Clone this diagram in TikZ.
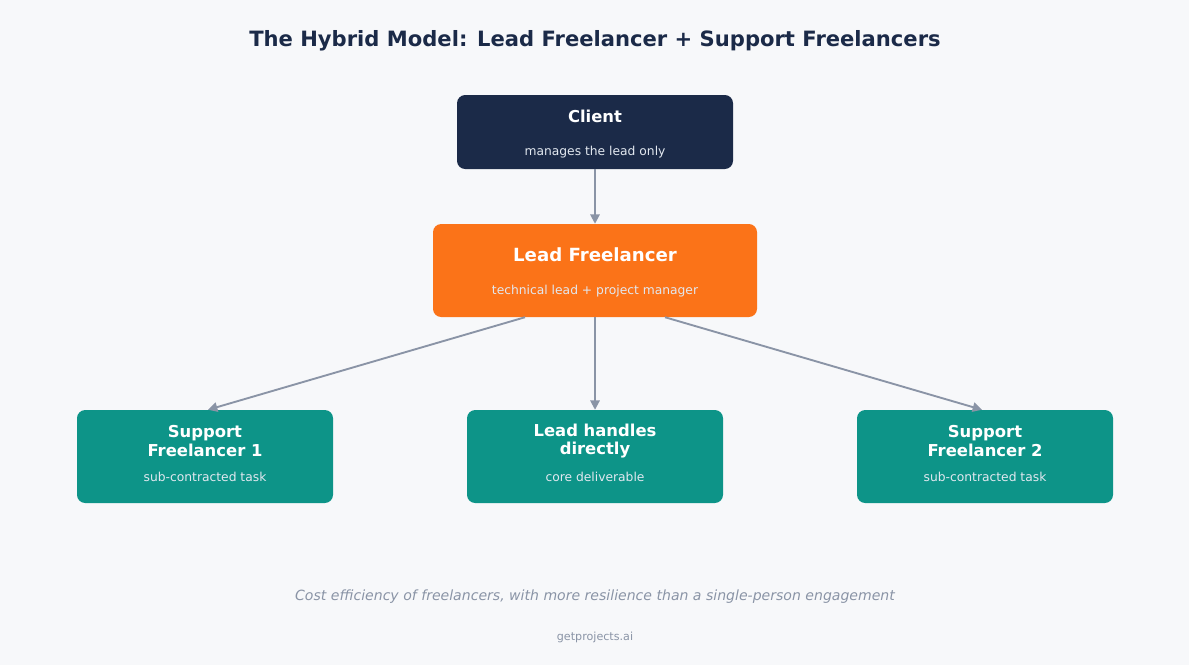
\documentclass[tikz,border=0pt]{standalone}
\usepackage{fontspec}
\setmainfont{DejaVu Sans}
\usetikzlibrary{calc,arrows.meta}
\definecolor{bgc}{HTML}{F7F8FA}
\definecolor{navy}{HTML}{1B2A48}
\definecolor{lead}{HTML}{FB7318}
\definecolor{teal}{HTML}{0D9488}
\definecolor{edge}{HTML}{8A94A6}
\definecolor{subw}{HTML}{E2E8F0}
\tikzset{
  box/.style={draw=none, rounded corners=7pt, inner sep=0pt},
  ttl/.style={text=white, font=\bfseries\fontsize{14}{16}\selectfont, align=center},
  sub/.style={text=subw, font=\fontsize{10.5}{12}\selectfont},
  link/.style={draw=edge, line width=1.6pt, -{Triangle[length=8pt,width=8pt]}}
}
\begin{document}
\begin{tikzpicture}[x=0.03cm,y=-0.03cm]
\fill[bgc] (0,0) rectangle (1189,665);
\useasboundingbox (0,0) rectangle (1189,665);
\node[text=navy, font=\bfseries\fontsize{18}{22}\selectfont] (title) at (595,41) {The Hybrid Model: Lead Freelancer + Support Freelancers};
% boxes
\node[box, fill=navy, minimum width=276*0.03cm, minimum height=74*0.03cm] (client) at (595,132) {};
\node[box, fill=lead, minimum width=324*0.03cm, minimum height=93*0.03cm] (lf) at (595,270.5) {};
\foreach \n/\x in {sfa/205, core/595, sfb/985}
  \node[box, fill=teal, minimum width=256*0.03cm, minimum height=93*0.03cm] (\n) at (\x,456.5) {};
% texts
\node[ttl] (clientT) at (595,116) {Client};
\node[sub] (clientS) at (595,152) {manages the lead only};
\node[ttl, font=\bfseries\fontsize{15.5}{18}\selectfont] (lfT) at (595,255) {Lead Freelancer};
\node[sub] (lfS) at (595,291) {technical lead + project manager};
\node[ttl] (sfaT) at (205,441) {Support\\Freelancer 1};
\node[sub] (sfaS) at (205,477) {sub-contracted task};
\node[ttl] (coreT) at (595,441) {Lead handles\\directly};
\node[sub] (coreS) at (595,477) {core deliverable};
\node[ttl] (sfbT) at (985,441) {Support\\Freelancer 2};
\node[sub] (sfbS) at (985,477) {sub-contracted task};
% arrows
\draw[link] (client.south) -- (lf.north);
\draw[link] (lf.south) -- (core.north);
\draw[link] ($(lf.south)+(-70,0)$) -- ($(sfa.north)+(3,0)$);
\draw[link] ($(lf.south)+(70,0)$) -- ($(sfb.north)+(-3,0)$);
\node[text=edge, font=\itshape\fontsize{12}{14}\selectfont] (note) at (595,597) {Cost efficiency of freelancers, with more resilience than a single-person engagement};
\node[text=edge, font=\fontsize{9.5}{11}\selectfont] (site) at (595,637) {getprojects.ai};
\end{tikzpicture}
\end{document}
